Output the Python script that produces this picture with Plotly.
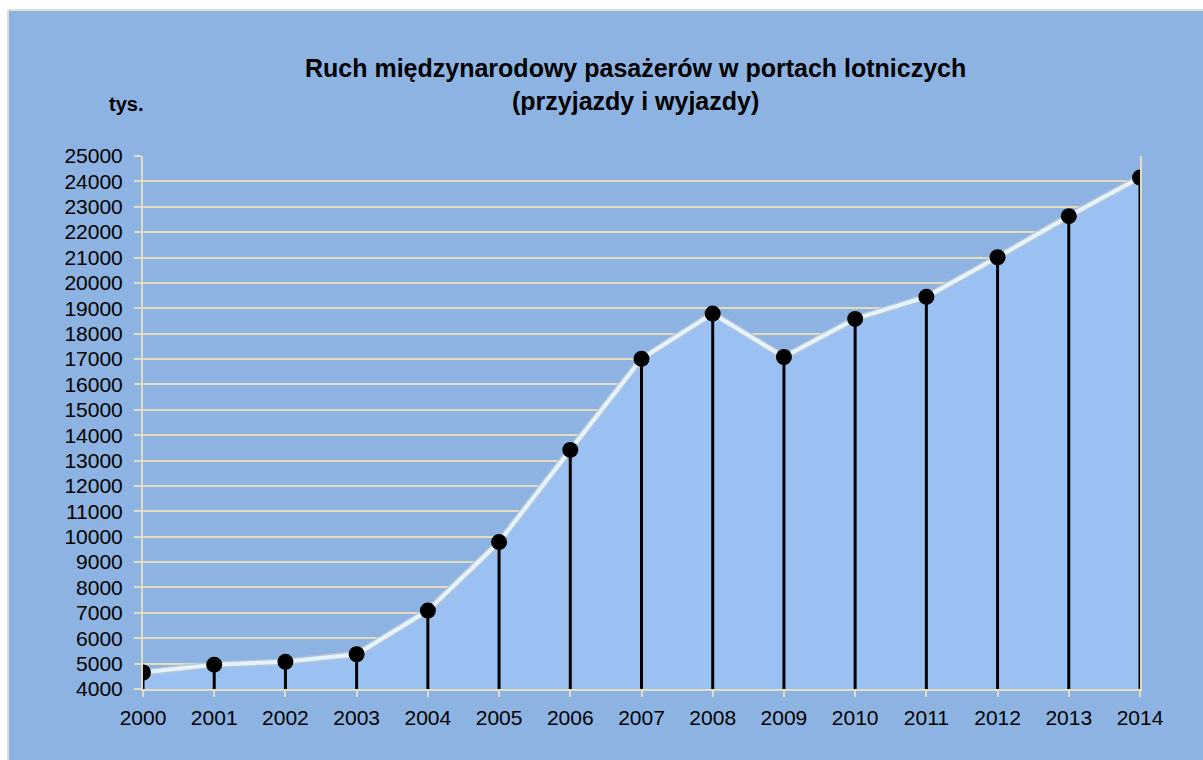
import plotly.graph_objects as go

years = list(range(2000, 2015))
passengers = [4650, 4960, 5070, 5370, 7090, 9790, 13420, 17010, 18790, 17080, 18580, 19450, 21010, 22630, 24150]
y_ticks = list(range(4000, 25001, 1000))
base = 4000

title_lines = ["Ruch międzynarodowy pasażerów w portach lotniczych", "(przyjazdy i wyjazdy)"]
unit_text = "tys."

BG = "#8db3e2"
AREA = "#9ac1f2"
GRID = "#e3dcc0"
FRAME = "#e2ded2"
FONT = "Arial, Liberation Sans, sans-serif"

fig = go.Figure()

# baseline for area fill
fig.add_trace(go.Scatter(x=years, y=[base] * len(years), mode="lines",
                         line=dict(width=0), hoverinfo="skip", showlegend=False))
# area
fig.add_trace(go.Scatter(x=years, y=passengers, mode="lines", fill="tonexty",
                         fillcolor=AREA, line=dict(color="rgba(185,195,215,0.9)", width=7),
                         hoverinfo="skip", showlegend=False))
# glow edge
fig.add_trace(go.Scatter(x=years, y=passengers, mode="lines",
                         line=dict(color="rgba(232,248,255,0.95)", width=4),
                         hoverinfo="skip", showlegend=False))

# drop lines
dx, dy = [], []
for yr, v in zip(years, passengers):
    dx += [yr, yr, None]
    dy += [base, v, None]
fig.add_trace(go.Scatter(x=dx, y=dy, mode="lines", line=dict(color="black", width=3),
                         hoverinfo="skip", showlegend=False))

# markers
fig.add_trace(go.Scatter(x=years, y=passengers, mode="markers",
                         marker=dict(color="black", size=16), showlegend=False))

W, H = 1203, 760
L, T = 143, 156
R = W - 1140
B = H - 689
pw, ph = W - L - R, H - T - B
plot_bottom = H - B


def px_x(p):
    return (p - L) / pw


def px_y(p):
    return (plot_bottom - p) / ph


fig.add_shape(type="rect", xref="paper", yref="paper",
              x0=px_x(8), x1=px_x(1230),
              y0=px_y(790), y1=px_y(10),
              fillcolor=BG, line=dict(width=0), layer="below")
fig.add_shape(type="line", xref="paper", yref="paper",
              x0=px_x(8), x1=px_x(1230), y0=px_y(10), y1=px_y(10),
              line=dict(color=FRAME, width=2), layer="below")
fig.add_shape(type="line", xref="paper", yref="paper",
              x0=px_x(8), x1=px_x(8), y0=px_y(10), y1=px_y(790),
              line=dict(color=FRAME, width=2), layer="below")

fig.add_annotation(text="<br>".join("<b>" + t + "</b>" for t in title_lines),
                   xref="paper", yref="paper",
                   x=px_x(635), y=px_y(52), xanchor="center", yanchor="top",
                   showarrow=False, align="center",
                   font=dict(family=FONT, size=25, color="black"))
fig.add_annotation(text="<b>" + unit_text + "</b>", xref="paper", yref="paper",
                   x=px_x(107), y=px_y(104), xanchor="left", yanchor="middle",
                   showarrow=False, font=dict(family=FONT, size=20, color="black"))

fig.update_layout(
    width=W, height=H,
    margin=dict(l=L, r=R, t=T, b=B),
    paper_bgcolor="white",
    plot_bgcolor="rgba(0,0,0,0)",
    font=dict(family=FONT, size=21, color="black"),
    showlegend=False,
)
fig.update_xaxes(range=[2000, 2014], tickvals=years, ticktext=[str(y) for y in years],
                 showgrid=False, zeroline=False, showline=True, linecolor=GRID, linewidth=2,
                 ticks="outside", ticklen=6, tickcolor=GRID, tickwidth=2,
                 ticklabelstandoff=3, tickfont=dict(size=21))
fig.update_yaxes(range=[4000, 25000], tickvals=y_ticks, ticktext=[str(v) for v in y_ticks],
                 showgrid=True, gridcolor=GRID, gridwidth=2, zeroline=False,
                 showline=True, linecolor=GRID, linewidth=2, mirror=True, layer="below traces",
                 ticks="outside", ticklen=7, tickcolor=GRID, tickwidth=2,
                 ticklabelstandoff=7, tickfont=dict(size=21))

fig.write_html("out.html", config={"displayModeBar": False},
               post_script="document.body.style.margin='0';document.body.style.overflow='hidden';")
